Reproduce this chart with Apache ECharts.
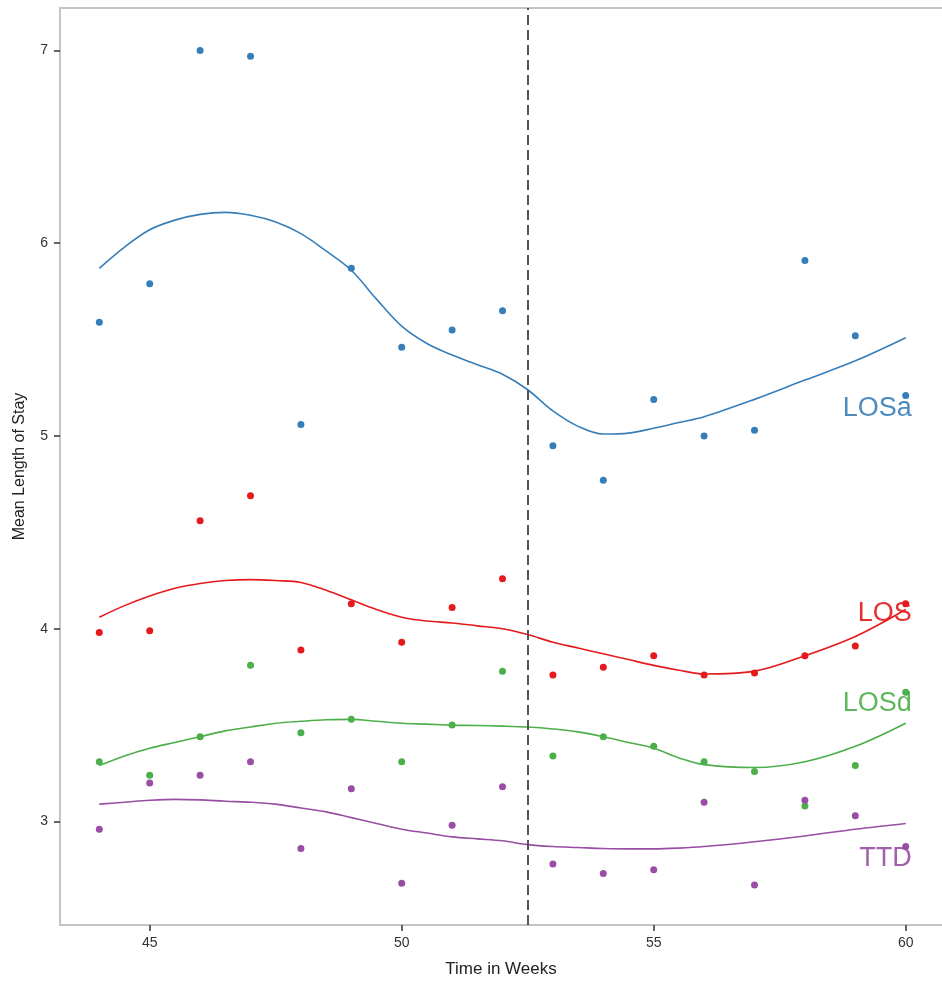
<!DOCTYPE html>
<html>
<head>
<meta charset="utf-8">
<script src="https://cdn.jsdelivr.net/npm/echarts@6/dist/echarts.min.js"></script>
<style>
html,body{margin:0;padding:0;background:#fff;}
#chart{width:942px;height:983px;}
</style>
</head>
<body>
<div id="chart"></div>
<script>
// ---- data ----
var weeks = [44,45,46,47,48,49,50,51,52,53,54,55,56,57,58,59,60];
var losaPts = [5.59,5.79,7.00,6.97,5.06,5.87,5.46,5.55,5.65,4.95,4.77,5.19,5.00,5.03,5.91,5.52,5.21];
var losPts  = [3.98,3.99,4.56,4.69,3.89,4.13,3.93,4.11,4.26,3.76,3.80,3.86,3.76,3.77,3.86,3.91,4.13];
var losdPts = [3.31,3.24,3.44,3.81,3.46,3.53,3.31,3.50,3.78,3.34,3.44,3.39,3.31,3.26,3.08,3.29,3.67];
var ttdPts  = [2.96,3.20,3.24,3.31,2.86,3.17,2.68,2.98,3.18,2.78,2.73,2.75,3.10,2.67,3.11,3.03,2.87];

var smoothWeeks = [44,44.5,45,45.5,46,46.5,47,47.5,48,48.5,49,49.5,50,50.5,51,51.5,52,52.5,53,53.5,54,54.5,55,55.5,56,57,58,59,60];
var losaFit = [5.87,5.98,6.07,6.12,6.15,6.16,6.145,6.11,6.05,5.96,5.86,5.71,5.57,5.48,5.42,5.37,5.32,5.24,5.13,5.05,5.01,5.015,5.04,5.07,5.10,5.19,5.29,5.39,5.51];
var losFit  = [4.06,4.12,4.17,4.21,4.235,4.25,4.255,4.25,4.24,4.20,4.15,4.10,4.06,4.04,4.03,4.015,4.00,3.97,3.93,3.90,3.87,3.84,3.81,3.785,3.765,3.78,3.86,3.96,4.10];
var losdFit = [3.29,3.34,3.38,3.41,3.44,3.47,3.49,3.51,3.52,3.528,3.53,3.52,3.51,3.505,3.50,3.498,3.495,3.49,3.48,3.465,3.44,3.41,3.38,3.33,3.295,3.28,3.31,3.39,3.51];
var ttdFit  = [3.09,3.10,3.11,3.115,3.112,3.105,3.10,3.09,3.07,3.05,3.02,2.99,2.96,2.94,2.92,2.91,2.90,2.88,2.87,2.865,2.86,2.858,2.858,2.862,2.87,2.895,2.925,2.96,2.99];

var seriesNames = ['LOSa','LOS','LOSd','TTD'];
var labelWeek = 60.12;
var labelValues = [5.145, 4.08, 3.61, 2.81];

var xTicks = [45,50,55,60];
var yTicks = [3,4,5,6,7];
var interventionWeek = 52.5;

// ---- chart ----
var colors = ['#377EB8','#E41A1C','#4DAF4A','#984EA3'];
var pts = [losaPts, losPts, losdPts, ttdPts];
var fits = [losaFit, losFit, losdFit, ttdFit];

function zip(xs, ys){ return xs.map(function(x,i){ return [x, ys[i]]; }); }

var series = [];
for (var k = 0; k < 4; k++) {
  series.push({
    type: 'line', name: seriesNames[k] + ' fit', data: zip(smoothWeeks, fits[k]),
    smooth: 0.35, showSymbol: false, silent: true,
    lineStyle: { color: colors[k], width: 1.6 }, z: 2
  });
  series.push({
    type: 'scatter', name: seriesNames[k], data: zip(weeks, pts[k]),
    symbolSize: 7, itemStyle: { color: colors[k], opacity: 1 }, z: 3
  });
  series.push({
    type: 'scatter', name: seriesNames[k] + ' label', data: [[labelWeek, labelValues[k]]],
    symbolSize: 1, itemStyle: { opacity: 0 }, z: 4,
    label: { show: true, position: 'inside', align: 'right', verticalAlign: 'middle',
      formatter: seriesNames[k], color: colors[k], fontSize: 27,
      fontFamily: 'Liberation Sans', opacity: 0.9 }
  });
}
series[0].markLine = {
  silent: true, symbol: 'none', label: { show: false },
  lineStyle: { color: '#555', type: [10, 5], width: 2 },
  data: [{ xAxis: interventionWeek }]
};

var xMin = 43.22, xMax = 60.72;
var border = { show: true, lineStyle: { color: '#c4c4c4', width: 2 } };

var chart = echarts.init(document.getElementById('chart'), null, { renderer: 'canvas' });
chart.setOption({
  animation: false,
  backgroundColor: '#fff',
  grid: { left: 60, top: 8, right: 0, bottom: 58, show: false, containLabel: false },
  xAxis: [{
    type: 'value', min: xMin, max: xMax, position: 'bottom',
    name: 'Time in Weeks', nameLocation: 'middle', nameGap: 36,
    nameTextStyle: { fontSize: 17, color: '#222', fontFamily: 'Liberation Sans' },
    splitLine: { show: false },
    axisLine: border,
    axisTick: { show: true, length: 6, inside: false, customValues: xTicks, lineStyle: { color: '#333', width: 1.5 } },
    axisLabel: { customValues: xTicks, fontSize: 14, color: '#333', margin: 11, fontFamily: 'Liberation Sans' }
  }, {
    type: 'value', min: xMin, max: xMax, position: 'top',
    splitLine: { show: false }, axisLine: border,
    axisTick: { show: false }, axisLabel: { show: false }
  }],
  yAxis: {
    type: 'value', min: 2.463, max: 7.2205,
    name: 'Mean Length of Stay', nameLocation: 'middle', nameGap: 32,
    nameTextStyle: { fontSize: 16, color: '#222', fontFamily: 'Liberation Sans' },
    splitLine: { show: false },
    axisLine: border,
    axisTick: { show: true, length: 6, inside: false, customValues: yTicks, lineStyle: { color: '#333', width: 1.5 } },
    axisLabel: { customValues: yTicks, fontSize: 14, color: '#333', margin: 12, fontFamily: 'Liberation Sans' }
  },
  series: series
});
</script>
</body>
</html>
